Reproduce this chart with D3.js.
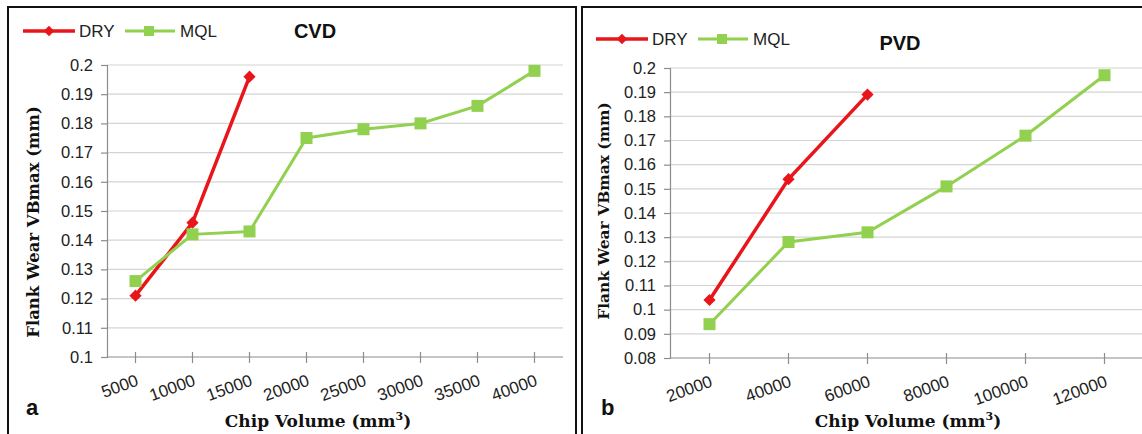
<!DOCTYPE html>
<html>
<head>
<meta charset="utf-8">
<script src="https://cdn.jsdelivr.net/npm/d3@7"></script>
<style>
body{margin:0;background:#fff;}
svg{display:block;}
</style>
</head>
<body>
<svg id="chart"></svg>
<script>
// panel a (CVD)
var cvdVolumes=["5000","10000","15000","20000","25000","30000","35000","40000"];
var cvdDry=[0.121,0.146,0.196];
var cvdMql=[0.126,0.142,0.143,0.175,0.178,0.180,0.186,0.198];
var cvdTicks=[0.1,0.11,0.12,0.13,0.14,0.15,0.16,0.17,0.18,0.19,0.2];

// panel b (PVD)
var pvdVolumes=["20000","40000","60000","80000","100000","120000"];
var pvdDry=[0.104,0.154,0.189];
var pvdMql=[0.094,0.128,0.132,0.151,0.172,0.197];
var pvdTicks=[0.08,0.09,0.1,0.11,0.12,0.13,0.14,0.15,0.16,0.17,0.18,0.19,0.2];

var seriesNames=["DRY","MQL"];

var width=1142, height=434;
var red="#e8161b", green="#92d050";

var svg=d3.select("#chart").attr("width",width).attr("height",height);

// panel frames
svg.append("rect").attr("x",8).attr("y",7).attr("width",568).attr("height",440)
   .attr("fill","none").attr("stroke","#111").attr("stroke-width",2);
svg.append("rect").attr("x",582).attr("y",7).attr("width",580).attr("height",440)
   .attr("fill","none").attr("stroke","#111").attr("stroke-width",2);

function drawPanel(p){
  var g=svg.append("g");
  var x=d3.scalePoint().domain(p.cats).range([p.left,p.right]).padding(0.5);
  var y=d3.scaleLinear().domain([p.ticks[0],p.ticks[p.ticks.length-1]]).range([p.bottom,p.top]);

  // gridlines
  g.selectAll("line.grid").data(p.ticks.slice(1)).enter().append("line")
   .attr("class","grid")
   .attr("x1",p.left).attr("x2",p.right)
   .attr("y1",function(d){return y(d);}).attr("y2",function(d){return y(d);})
   .attr("stroke","#d4d4d4").attr("stroke-width",1.2);

  // y axis
  var yAxis=d3.axisLeft(y).tickValues(p.ticks).tickSize(6).tickPadding(8)
              .tickFormat(function(d){return d3.format("")(+d.toFixed(2));});
  var ya=g.append("g").attr("transform","translate("+p.left+",0)").call(yAxis);
  ya.select(".domain").attr("stroke","#8c8c8c").attr("stroke-width",1.2);
  ya.selectAll(".tick line").attr("stroke","#8c8c8c").attr("stroke-width",1.2);
  ya.selectAll("text").attr("font-family","Liberation Sans, Arial, sans-serif")
    .attr("font-size",16.5).attr("fill","#222");

  // x axis
  g.append("line").attr("x1",p.left).attr("x2",p.right)
   .attr("y1",p.bottom).attr("y2",p.bottom)
   .attr("stroke","#8c8c8c").attr("stroke-width",1.2);
  g.selectAll("line.xt").data(p.cats).enter().append("line")
   .attr("class","xt")
   .attr("x1",function(d){return x(d);}).attr("x2",function(d){return x(d);})
   .attr("y1",p.bottom-5).attr("y2",p.bottom+6)
   .attr("stroke","#8c8c8c").attr("stroke-width",1.2);
  g.selectAll("text.xl").data(p.cats).enter().append("text")
   .attr("class","xl")
   .attr("transform",function(d){return "translate("+(x(d)+4)+","+(p.bottom+28)+") rotate(-20)";})
   .attr("text-anchor","end")
   .attr("font-family","Liberation Sans, Arial, sans-serif")
   .attr("font-size",17).attr("fill","#222")
   .text(function(d){return d;});

  // axis titles
  var xt=g.append("text").attr("x",p.xTitleX).attr("y",427)
   .attr("text-anchor","middle")
   .attr("font-family","DejaVu Serif, serif").attr("font-weight","bold")
   .attr("font-size",17).attr("fill","#111");
  xt.append("tspan").text("Chip Volume (mm");
  xt.append("tspan").attr("font-size",11).attr("dy",-7).text("3");
  xt.append("tspan").attr("dy",7).text(")");

  g.append("text")
   .attr("transform","translate("+p.yTitleX+","+p.yTitleY+") rotate(-90)")
   .attr("text-anchor","middle")
   .attr("font-family","DejaVu Serif, serif").attr("font-weight","bold")
   .attr("font-size",p.yTitleSize).attr("fill","#111")
   .text("Flank Wear VBmax (mm)");

  // lines
  var line=d3.line().x(function(d,i){return x(p.cats[i]);}).y(function(d){return y(d);});
  g.append("path").attr("d",line(p.dry)).attr("fill","none")
   .attr("stroke",red).attr("stroke-width",3.5);
  g.selectAll("path.dm").data(p.dry).enter().append("path")
   .attr("class","dm")
   .attr("d",d3.symbol().type(d3.symbolDiamond2).size(95))
   .attr("transform",function(d,i){return "translate("+x(p.cats[i])+","+y(d)+")";})
   .attr("fill",red);
  g.append("path").attr("d",line(p.mql)).attr("fill","none")
   .attr("stroke",green).attr("stroke-width",3);
  g.selectAll("rect.mm").data(p.mql).enter().append("rect")
   .attr("class","mm")
   .attr("x",function(d,i){return x(p.cats[i])-6;})
   .attr("y",function(d){return y(d)-6;})
   .attr("width",12).attr("height",12)
   .attr("fill",green);

  // legend
  var lg=g.append("g").attr("transform","translate("+p.legX+","+p.legY+")");
  lg.append("line").attr("x1",0).attr("x2",52).attr("y1",0).attr("y2",0)
    .attr("stroke",red).attr("stroke-width",3.5);
  lg.append("path").attr("d",d3.symbol().type(d3.symbolDiamond2).size(70))
    .attr("transform","translate(26,0)").attr("fill",red);
  lg.append("text").attr("x",56).attr("y",6).text(seriesNames[0]);
  lg.append("line").attr("x1",102).attr("x2",152).attr("y1",0).attr("y2",0)
    .attr("stroke",green).attr("stroke-width",3);
  lg.append("rect").attr("x",121).attr("y",-5).attr("width",10).attr("height",10).attr("fill",green);
  lg.append("text").attr("x",157).attr("y",6).text(seriesNames[1]);
  lg.selectAll("text").attr("font-family","Liberation Sans, Arial, sans-serif")
    .attr("font-size",17).attr("fill","#222");

  g.append("text").attr("x",p.titleX).attr("y",p.titleY)
   .attr("text-anchor","middle")
   .attr("font-family","Liberation Sans, Arial, sans-serif").attr("font-weight","bold")
   .attr("font-size",20).attr("fill","#111").text(p.title);

  g.append("text").attr("x",p.tagX).attr("y",415)
   .attr("font-family","Liberation Sans, Arial, sans-serif").attr("font-weight","bold")
   .attr("font-size",22).attr("fill","#111").text(p.tag);
}

drawPanel({cats:cvdVolumes,dry:cvdDry,mql:cvdMql,ticks:cvdTicks,
  left:107,right:563,top:65,bottom:357,
  xTitleX:318,yTitleX:39,yTitleY:222,yTitleSize:16.5,
  legX:23,legY:31,title:"CVD",titleX:315,titleY:38,tag:"a",tagX:26});

drawPanel({cats:pvdVolumes,dry:pvdDry,mql:pvdMql,ticks:pvdTicks,
  left:670,right:1144,top:68,bottom:358,
  xTitleX:908,yTitleX:609,yTitleY:211,yTitleSize:15.5,
  legX:596,legY:39,title:"PVD",titleX:900,titleY:50,tag:"b",tagX:601});
</script>
</body>
</html>
